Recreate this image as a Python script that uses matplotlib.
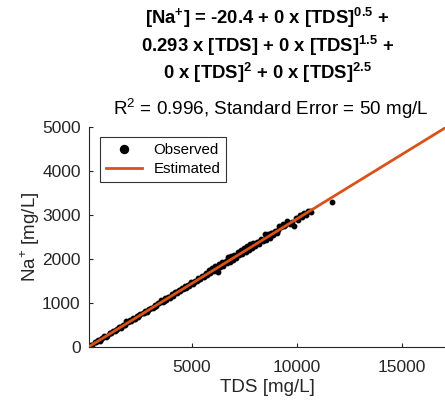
import numpy as np
import matplotlib
matplotlib.use('Agg')
import matplotlib.pyplot as plt

plt.rcParams['font.family'] = 'Liberation Sans'
plt.rcParams['mathtext.fontset'] = 'custom'
plt.rcParams['mathtext.rm'] = 'Liberation Sans'
plt.rcParams['mathtext.bf'] = 'Liberation Sans:bold'

tds_obs = [120, 260, 380, 520, 610, 700, 830, 950, 1080, 1150, 1240, 1330, 1420, 1510,
           1600, 1700, 1790, 1880, 1960, 2050, 2120, 2200, 2300, 2380, 2450, 2530, 2650,
           2760, 2840, 2950, 3050, 3130, 3220, 3300, 3400, 3520, 3600, 3700, 3780, 3860,
           3950, 4050, 4120, 4200, 4300, 4380, 4450, 4520, 4580, 4650, 4720, 4800, 4880,
           4950, 5050, 5150, 5220, 5300, 5400, 5480, 5560, 5650, 5720, 5800, 5880, 5950,
           6050, 6120, 6200, 6240, 6280, 6350, 6420, 6500, 6600, 6650, 6720, 6800, 6880,
           6950, 7020, 7100, 7180, 7250, 7330, 7400, 7480, 7560, 7620, 7700, 7780, 7850,
           7930, 8000, 8100, 8200, 8300, 8400, 8480, 8550, 8620, 8700, 8780, 8850, 8950,
           9050, 9150, 9250, 9350, 9450, 9550, 9650, 9750, 9850, 9950, 10050, 10150,
           10250, 10350, 10450, 10550, 10650, 11650,
           200, 450, 680, 900, 1120, 1380, 1560, 1830, 2010, 2260, 2500, 2700, 2900,
           3180, 3450, 3650, 3900, 4100, 4250, 4420, 4600, 4760, 4920, 5100, 5350, 5600,
           5850, 6080, 6320, 6550, 6780, 7050, 7300, 7520, 7740, 7980, 8250, 8520, 8820,
           9100, 9400, 10000, 10300, 10600]
na_obs = [30, 50, 110, 150, 145, 200, 250, 245, 320, 330, 365, 360, 410, 445,
          440, 500, 490, 580, 560, 610, 590, 650, 640, 700, 690, 740, 770,
          810, 800, 860, 890, 880, 950, 935, 990, 1060, 1020, 1110, 1070, 1140,
          1120, 1200, 1170, 1240, 1220, 1300, 1270, 1350, 1310, 1380, 1350, 1420, 1395,
          1470, 1440, 1510, 1490, 1570, 1540, 1620, 1590, 1680, 1630, 1740, 1680, 1790,
          1730, 1840, 1770, 1710, 1880, 1810, 1940, 1850, 1960, 1900, 2050, 1940, 2060,
          1980, 2100, 2020, 2160, 2080, 2200, 2120, 2250, 2160, 2290, 2210, 2330, 2240,
          2360, 2290, 2390, 2350, 2460, 2410, 2560, 2440, 2560, 2470, 2600, 2540, 2640,
          2600, 2750, 2720, 2790, 2760, 2860, 2790, 2850, 2750, 2930, 2890, 3000,
          2950, 3050, 2990, 3100, 3060, 3300,
          45, 105, 190, 235, 315, 380, 445, 510, 580, 635, 720, 765, 840,
          905, 1000, 1045, 1135, 1175, 1240, 1290, 1340, 1390, 1430, 1480, 1555, 1630,
          1710, 1770, 1845, 1910, 1985, 2060, 2135, 2200, 2265, 2340, 2410, 2495, 2580,
          2660, 2750, 2920, 3010, 3100]

# fitted relation
intercept = -20.4
slope = 0.293
tds_fit = np.array([0, 17050])
na_fit = intercept + slope * tds_fit

fig = plt.figure(figsize=(4.45, 4.04), dpi=100)
ax = fig.add_axes([0.2, 0.141, 0.8, 0.545])

ax.plot(tds_obs, na_obs, 'o', color='black', markersize=3.2, label='Observed', zorder=2)
ax.plot(tds_fit, na_fit, '-', color='#D95319', linewidth=2, label='Estimated', zorder=3)

ax.set_xlim(100, 17050)
ax.set_ylim(0, 5000)
ax.set_xticks([5000, 10000, 15000])
ax.set_yticks([0, 1000, 2000, 3000, 4000, 5000])
gray = '#262626'
ax.tick_params(direction='in', length=3, labelsize=12.5, colors=gray)
ax.tick_params(axis='x', pad=9)
ax.tick_params(axis='y', pad=6)
for s in ['top', 'right']:
    ax.spines[s].set_visible(False)
for s in ['left', 'bottom']:
    ax.spines[s].set_color(gray)
    ax.spines[s].set_linewidth(0.8)

ax.set_xlabel('TDS [mg/L]', fontsize=13.5, color=gray, labelpad=3)
ax.set_ylabel('Na$^{+}$ [mg/L]', fontsize=13.5, color=gray, labelpad=0)

leg = ax.legend(loc='upper left', fontsize=10.8, frameon=True, fancybox=False,
                edgecolor='black', borderaxespad=0.7, handlelength=2.4,
                borderpad=0.4, labelspacing=0.3, markerscale=1.8, numpoints=1)
leg.get_frame().set_linewidth(0.8)

cx = 0.601
fig.text(cx, 1 - 18 / 404, r'[Na$^{\mathbf{+}}$] = -20.4 + 0 x [TDS]$^{\mathbf{0.5}}$ +',
         ha='center', va='center', fontsize=13.3, fontweight='bold')
fig.text(cx, 1 - 46 / 404, r'0.293 x [TDS] + 0 x [TDS]$^{\mathbf{1.5}}$ +',
         ha='center', va='center', fontsize=13.3, fontweight='bold')
fig.text(cx, 1 - 73 / 404, r'0 x [TDS]$^{\mathbf{2}}$ + 0 x [TDS]$^{\mathbf{2.5}}$',
         ha='center', va='center', fontsize=13.3, fontweight='bold')
fig.text(0.608, 1 - 109 / 404, r'R$^{2}$ = 0.996, Standard Error = 50 mg/L',
         ha='center', va='center', fontsize=13.6)

fig.savefig('out.png', dpi=100)
